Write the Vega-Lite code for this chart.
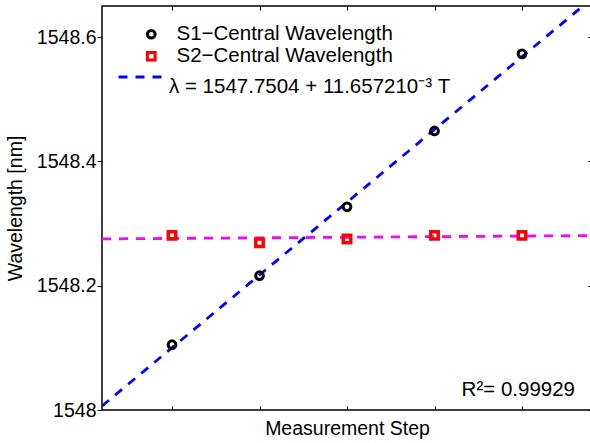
{
  "$schema": "https://vega.github.io/schema/vega-lite/v6.json",
  "width": 490,
  "height": 404,
  "autosize": {"type": "none"},
  "padding": {"left": 102, "top": 6, "right": 0, "bottom": 33},
  "background": "white",
  "config": {
    "font": "Liberation Sans",
    "view": {"stroke": "black", "strokeWidth": 1.5},
    "axis": {
      "grid": false,
      "domain": false,
      "tickColor": "black",
      "tickWidth": 1,
      "labelColor": "black",
      "labelFontSize": 19.5,
      "labelFont": "Liberation Sans",
      "titleColor": "black",
      "titleFontSize": 19.5,
      "titleFont": "Liberation Sans",
      "titleFontWeight": "normal"
    },
    "legend": {
      "orient": "none",
      "padding": 0,
      "labelFont": "Liberation Sans",
      "labelFontSize": 20.5,
      "labelColor": "black",
      "labelLimit": 400
    }
  },
  "datasets": {
    "measurements": [
      {"step": 1, "series": "S1−Central Wavelength", "wavelength": 1548.105},
      {"step": 2, "series": "S1−Central Wavelength", "wavelength": 1548.216},
      {"step": 3, "series": "S1−Central Wavelength", "wavelength": 1548.327},
      {"step": 4, "series": "S1−Central Wavelength", "wavelength": 1548.449},
      {"step": 5, "series": "S1−Central Wavelength", "wavelength": 1548.573},
      {"step": 1, "series": "S2−Central Wavelength", "wavelength": 1548.281},
      {"step": 2, "series": "S2−Central Wavelength", "wavelength": 1548.269},
      {"step": 3, "series": "S2−Central Wavelength", "wavelength": 1548.275},
      {"step": 4, "series": "S2−Central Wavelength", "wavelength": 1548.281},
      {"step": 5, "series": "S2−Central Wavelength", "wavelength": 1548.281}
    ],
    "fitS1": [
      {"step": 0.2, "wavelength": 1548.0065, "fit": "λ = 1547.7504 + 11.657210⁻³ T"},
      {"step": 5.8, "wavelength": 1548.662, "fit": "λ = 1547.7504 + 11.657210⁻³ T"}
    ],
    "fitS2": [
      {"step": 0.2, "wavelength": 1548.2753},
      {"step": 5.8, "wavelength": 1548.2806}
    ],
    "annotation": [
      {"label": "R²= 0.99929"}
    ]
  },
  "layer": [
    {
      "data": {"name": "fitS2"},
      "mark": {"type": "line", "color": "#ff00ff", "strokeWidth": 2.8, "strokeDash": [9, 8], "clip": true},
      "encoding": {
        "x": {
          "field": "step", "type": "quantitative",
          "scale": {"domain": [0.2, 5.8], "nice": false, "zero": false},
          "axis": {"orient": "bottom", "values": [1, 2, 3, 4, 5], "labels": false, "tickSize": -4, "title": "Measurement Step", "titlePadding": 9}
        },
        "y": {
          "field": "wavelength", "type": "quantitative",
          "scale": {"domain": [1548, 1548.65], "nice": false, "zero": false},
          "axis": {"orient": "left", "values": [1548, 1548.2, 1548.4, 1548.6], "format": ".1~f", "tickSize": 5, "labelPadding": 1, "title": "Wavelength [nm]", "titlePadding": 11}
        }
      }
    },
    {
      "data": {"name": "fitS1"},
      "mark": {"type": "line", "color": "#0000ff", "strokeWidth": 2.8, "clip": true},
      "encoding": {
        "x": {
          "field": "step", "type": "quantitative",
          "axis": {"orient": "top", "values": [1, 2, 3, 4, 5], "labels": false, "tickSize": -4, "title": null}
        },
        "y": {
          "field": "wavelength", "type": "quantitative",
          "axis": {"orient": "right", "values": [1548, 1548.2, 1548.4, 1548.6], "labels": false, "tickSize": -4, "title": null}
        },
        "strokeDash": {
          "field": "fit", "type": "nominal",
          "scale": {"range": [[9, 8]]},
          "legend": {
            "title": null,
            "legendX": 15,
            "legendY": 48,
            "symbolType": "stroke",
            "symbolSize": 1849,
            "symbolStrokeColor": "#0000ff",
            "symbolStrokeWidth": 3,
            "symbolDash": [9.5, 6.5],
            "labelOffset": 6,
            "labelBaseline": "top"
          }
        }
      }
    },
    {
      "data": {"name": "measurements"},
      "mark": {"type": "point", "filled": false, "opacity": 1},
      "encoding": {
        "x": {"field": "step", "type": "quantitative", "axis": null},
        "y": {"field": "wavelength", "type": "quantitative", "axis": null},
        "color": {
          "field": "series", "type": "nominal",
          "scale": {
            "domain": ["S1−Central Wavelength", "S2−Central Wavelength"],
            "range": ["#000000", "#ff0000"]
          },
          "legend": {
            "title": null,
            "legendX": 39,
            "legendY": 18,
            "labelOffset": 15,
            "rowPadding": 1,
            "symbolSize": 60,
            "symbolStrokeWidth": 3
          }
        },
        "shape": {
          "field": "series", "type": "nominal",
          "scale": {
            "domain": ["S1−Central Wavelength", "S2−Central Wavelength"],
            "range": ["circle", "square"]
          },
          "legend": {
            "title": null,
            "legendX": 39,
            "legendY": 18,
            "labelOffset": 15,
            "rowPadding": 1,
            "symbolSize": 60,
            "symbolStrokeWidth": 3
          }
        },
        "size": {
          "condition": {"test": "datum.series === 'S2−Central Wavelength'", "value": 55},
          "value": 60
        },
        "strokeWidth": {
          "condition": {"test": "datum.series === 'S2−Central Wavelength'", "value": 3.5},
          "value": 3
        }
      }
    },
    {
      "data": {"name": "annotation"},
      "mark": {"type": "text", "align": "right", "baseline": "alphabetic", "fontSize": 20.5, "font": "Liberation Sans", "color": "black"},
      "encoding": {
        "x": {"datum": 5.606, "type": "quantitative", "axis": null},
        "y": {"datum": 1548.0225, "type": "quantitative", "axis": null},
        "text": {"field": "label", "type": "nominal"}
      }
    }
  ]
}
